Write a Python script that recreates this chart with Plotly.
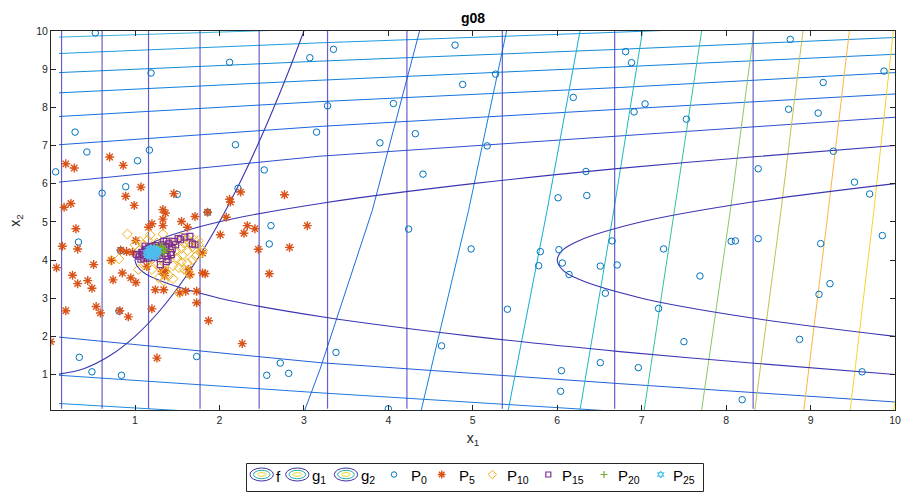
import plotly.graph_objects as go

# ---------------- data ----------------
# "f" contour lines, nearly horizontal family (sampled at common x1 stations)
fh_x = [0.1, 3.19, 6.74, 10.0]
fh_y = [
    [9.84, 10.06, 10.30, 10.52],
    [9.41, 9.69, 9.97, 10.25],
    [8.91, 9.21, 9.52, 9.83],
    [8.38, 8.71, 9.06, 9.39],
    [7.76, 8.15, 8.52, 8.91],
    [7.02, 7.50, 7.95, 8.35],
    [6.04, 6.72, 7.25, 7.74],
    [1.98, 1.31, 0.76, 0.28],
    [0.98, 0.52, 0.03, -0.40],
    [0.24, -0.16, -0.60, -1.00],
]
# "f" contour lines, steep family (sampled at common x2 stations)
fs_y = [0.07, 5.3, 10.0]
fs_x = [
    [3.01, 3.81, 4.37],
    [4.39, 4.95, 5.40],
    [5.42, 5.88, 6.27],
    [6.27, 6.67, 7.01],
    [7.03, 7.39, 7.71],
    [7.71, 8.05, 8.33],
    [8.34, 8.65, 8.91],
    [8.92, 9.21, 9.46],
    [9.47, 9.75, 9.98],
    [9.98, 10.5, 10.9],
]
s1_extra_x = [3.01, 3.19, 3.81, 4.37]
s1_extra_y = [0.07, 1.13, 5.3, 10.0]

# vertical contour lines (x1 positions)
v_x = [0.13, 0.61, 1.16, 1.77, 2.47, 3.28, 4.22, 5.35, 6.68, 8.32]
v_y = [0.1, 10.0]

# constraint curves
g1_x = [0.1, 0.4, 0.7, 1.0, 1.3, 1.6, 1.9, 2.2, 2.5, 2.8, 3.0]
g1_y = [1.01, 1.16, 1.49, 2.0, 2.69, 3.56, 4.61, 5.84, 7.25, 8.84, 10.0]
g2_x = [10.0, 8.3, 6.74, 5.0, 3.25, 2.0, 1.25, 1.06, 1.0, 1.06, 1.25, 2.0, 3.25, 5.0, 6.74, 8.3, 10.0]
g2_y = [7.0, 6.7, 6.4, 6.0, 5.5, 5.0, 4.5, 4.25, 4.0, 3.75, 3.5, 3.0, 2.5, 2.0, 1.6, 1.3, 1.0]
g2b_x = [10.0, 8.25, 7.0, 6.25, 6.06, 6.0, 6.06, 6.25, 7.0, 8.25, 10.0]
g2b_y = [6.0, 5.5, 5.0, 4.5, 4.25, 4.0, 3.75, 3.5, 3.0, 2.5, 2.0]

# populations
p0_x = [0.53, 0.29, 0.43, 0.06, 1.19, 1.17, 1.03, 0.89, 0.61, 1.50, 2.12, 2.19, 2.22, 2.53, 3.07, 3.15, 1.86,
        0.33, 0.83, 0.81, 0.34, 0.49, 0.84, 1.73, 2.61, 2.59, 2.56, 2.72, 2.82,
        3.35, 4.79, 5.27, 4.88, 6.19, 3.28, 4.06, 3.90, 4.32, 5.17, 4.41, 6.34, 6.01, 6.35,
        4.24, 3.38, 4.98, 5.41, 4.63, 4.00, 5.80, 5.78, 6.02, 6.06, 6.14, 6.65, 6.51, 6.57, 6.71, 6.51, 6.05, 6.04,
        6.81, 6.88, 8.76, 9.87, 9.15, 7.04, 6.91, 7.53, 8.74, 9.09, 9.27, 8.38, 9.52, 9.70,
        7.26, 7.69, 7.20, 7.50, 6.96, 8.06, 8.11, 8.38, 9.12, 9.23, 9.10, 8.87, 9.85, 9.61, 8.19]
p0_y = [9.95, 7.35, 6.83, 6.31, 8.90, 6.88, 6.60, 5.92, 5.75, 5.72, 9.18, 7.02, 5.88, 6.36, 9.30, 7.35, 5.25,
        4.47, 4.25, 2.66, 1.45, 1.07, 0.98, 1.47, 4.90, 4.42, 0.98, 1.30, 1.03,
        9.52, 9.63, 8.87, 8.60, 8.26, 8.04, 8.10, 7.07, 7.31, 6.99, 6.25, 6.32, 5.63, 5.69,
        4.81, 1.58, 4.29, 2.71, 1.75, 0.10, 4.22, 3.85, 4.27, 3.92, 3.62, 4.50, 3.84, 3.13, 3.87, 1.31, 1.10, 0.56,
        9.46, 9.17, 9.78, 8.95, 8.65, 8.09, 7.88, 7.69, 7.95, 7.85, 6.85, 6.39, 6.04, 5.73,
        4.29, 3.58, 2.73, 1.86, 1.18, 4.49, 4.50, 4.56, 4.43, 3.38, 3.10, 1.92, 4.64, 1.07, 0.34]

p5_x = [0.18, 0.28, 0.70, 0.86, 0.89, 1.07, 0.99, 0.16, 0.24, 1.33, 1.36, 1.46, 1.71, 1.86, 2.12, 2.13, 2.25, 2.77, 2.08,
        0.30, 0.14, 0.32, 0.07, 0.26, 0.32, 0.44, 0.49, 0.51, 0.18, 0.54, 0.59, 0.00, 0.74, 0.85, 0.95, 1.01, 0.92,
        0.97, 1.01, 1.20, 1.24, 1.26, 1.34, 1.16, 1.20, 1.33, 1.33, 1.55, 1.62, 1.53, 1.60, 1.73, 1.73, 1.87, 1.83,
        1.65, 2.01, 2.29, 2.33, 2.42, 2.46, 2.59, 2.83, 3.04, 2.27, 1.80, 0.83, 0.90, 0.72, 1.14, 1.32, 1.63, 1.80,
        0.82, 1.36, 1.35]
p5_y = [6.52, 6.41, 6.70, 6.48, 5.67, 5.91, 5.43, 5.38, 5.48, 5.32, 5.23, 5.74, 5.14, 5.25, 5.59, 5.52, 5.78, 5.71, 5.12,
        4.82, 4.36, 4.29, 3.80, 3.60, 3.38, 3.46, 3.26, 3.88, 2.67, 2.78, 2.61, 1.86, 3.48, 3.66, 3.53, 3.41, 2.51,
        4.20, 4.51, 2.72, 3.22, 1.43, 3.22, 4.86, 4.95, 5.07, 4.90, 5.01, 4.86, 3.14, 3.18, 3.18, 2.88, 2.41, 3.64,
        3.62, 4.66, 4.70, 4.90, 4.82, 4.28, 3.64, 4.33, 4.90, 1.81, 4.18, 4.26, 4.22, 3.99, 3.83, 3.70, 3.75, 3.66,
        2.67, 3.72, 3.59]

p10_x = [0.91, 0.81, 0.72, 1.04, 1.06, 1.10, 1.18, 1.33, 1.42, 1.55, 1.62, 1.70, 1.75, 1.78, 1.80, 1.72,
         1.68, 1.62, 1.55, 1.50, 1.45, 1.40, 1.45, 1.28, 1.65, 1.62, 1.52, 1.52, 1.58, 1.35, 1.30, 1.25,
         1.20, 1.12, 1.55, 1.62, 1.68, 1.48, 1.40, 1.05, 1.15, 1.20, 1.75, 1.58, 1.10, 1.36, 1.56, 1.65,
         1.00, 1.44, 1.70, 1.34, 1.26]
p10_y = [4.68, 4.03, 3.99, 3.75, 4.49, 4.40, 4.66, 4.68, 4.47, 4.60, 4.55, 4.52, 4.51, 4.18, 4.25, 4.10,
         4.00, 3.92, 3.95, 4.05, 3.85, 3.60, 3.51, 3.53, 3.62, 3.70, 3.14, 3.80, 3.75, 3.90, 3.80, 3.95,
         3.75, 3.90, 4.30, 4.25, 4.35, 4.25, 4.30, 4.25, 4.52, 4.02, 4.40, 4.45, 4.05, 3.70, 4.12, 4.45,
         4.40, 4.15, 4.30, 3.45, 4.45]

p15_x = [1.59, 1.68, 1.54, 1.71, 1.37, 1.46, 1.30, 1.39, 1.43, 1.34, 1.65, 1.51, 1.37,
         1.05, 1.08, 1.10, 1.12, 1.14, 1.16, 1.18, 1.20, 1.22, 1.24, 1.26, 1.28, 1.30, 1.32,
         1.34, 1.36, 1.40, 1.44, 1.10, 1.13, 1.17, 1.21, 1.25, 1.29, 1.33, 1.15, 1.19, 1.23,
         1.27, 1.31, 1.35, 1.07, 1.12, 1.42, 1.38, 1.48, 1.02]
p15_y = [4.60, 4.42, 4.53, 4.40, 4.49, 4.49, 3.88, 4.01, 4.14, 4.49, 4.62, 4.56, 3.96,
         4.10, 4.20, 4.05, 4.28, 4.12, 4.32, 4.08, 4.35, 4.15, 4.38, 4.10, 4.33, 4.20, 4.40,
         4.25, 4.36, 4.42, 4.30, 4.14, 4.22, 4.25, 4.18, 4.28, 4.12, 4.32, 4.05, 4.30, 4.06,
         4.22, 4.27, 4.18, 4.02, 4.36, 4.20, 4.10, 4.40, 4.15]

p20_x = [1.18, 1.21, 1.24, 1.27, 1.30, 1.33, 1.36, 1.22, 1.26, 1.30, 1.20, 1.28, 1.34, 1.24, 1.32]
p20_y = [4.20, 4.25, 4.18, 4.28, 4.22, 4.30, 4.26, 4.32, 4.34, 4.33, 4.14, 4.16, 4.20, 4.24, 4.36]

p25_x = [1.14, 1.16, 1.18, 1.20, 1.22, 1.24, 1.26, 1.17, 1.19, 1.21, 1.23, 1.25, 1.15, 1.19, 1.23,
         1.27, 1.18, 1.22, 1.20, 1.24]
p25_y = [4.18, 4.22, 4.15, 4.24, 4.19, 4.26, 4.22, 4.28, 4.20, 4.12, 4.14, 4.18, 4.12, 4.30, 4.29,
         4.25, 4.10, 4.23, 4.17, 4.09]

x_ticks = [1, 2, 3, 4, 5, 6, 7, 8, 9, 10]
y_ticks = [1, 2, 3, 4, 5, 6, 7, 8, 9, 10]

legend_names = ['f', 'g<sub>1</sub>', 'g<sub>2</sub>', 'P<sub>0</sub>', 'P<sub>5</sub>',
                'P<sub>10</sub>', 'P<sub>15</sub>', 'P<sub>20</sub>', 'P<sub>25</sub>']

# ---------------- styles / layout ----------------
fh_colors = ['#3bb3dc', '#1c9bdf', '#128ad8', '#1180dc', '#1173df', '#1966dc', '#2f4fcf',
             '#2460d8', '#1f78df', '#1f8ce0']
fs_colors = ['#1e68e0', '#1480dc', '#12acd0', '#1cb9bd', '#34c0a0', '#86c86a', '#c4c050',
             '#f8b542', '#f8d232', '#f5ee20']
navy = '#3b35b0'
vcol = 'rgba(62,58,190,0.8)'
pop_styles = [  # symbol, colour, size, line width
    ('circle-open', '#0072BD', 6.5, 1.0),
    ('asterisk-open', '#D95319', 7.5, 1.4),
    ('diamond-open', '#EDB120', 7.5, 1.0),
    ('square-open', '#7E2F8E', 6, 1.2),
    ('cross-thin-open', '#77AC30', 6, 1.2),
    ('hexagram-open', '#4DBEEE', 6, 1.2),
]
# legend layout in pixels (second, hidden axis pair mapped 1:1 to pixels)
leg_icon_cx = [261.7, 297.3, 346.0, 394.0, 441.7, 492.3, 548.3, 604.0, 660.7]
leg_text_x = [273.5, 309.5, 358.5, 408.5, 456.5, 504.5, 560.0, 616.0, 671.0]
leg_cy = 474.5
leg_box = (246.5, 463.5, 703.5, 491.5)

PL, PR, PT = 51, 9, 31
H, W = 494, 904
plot_bottom_px = 410
ydom0 = (H - plot_bottom_px) / (H - PT)

fig = go.Figure()

for ys, c in zip(fh_y, fh_colors):
    fig.add_trace(go.Scatter(x=fh_x, y=ys, mode='lines', showlegend=False, hoverinfo='skip',
                             line=dict(color=c, width=1)))
for i, (xs, c) in enumerate(zip(fs_x, fs_colors)):
    if i == 0:
        fig.add_trace(go.Scatter(x=s1_extra_x, y=s1_extra_y, mode='lines', showlegend=False,
                                 hoverinfo='skip', line=dict(color=c, width=1)))
    else:
        fig.add_trace(go.Scatter(x=xs, y=fs_y, mode='lines', showlegend=False, hoverinfo='skip',
                                 line=dict(color=c, width=1)))
for vx in v_x:
    fig.add_trace(go.Scatter(x=[vx, vx], y=v_y, mode='lines', showlegend=False, hoverinfo='skip',
                             line=dict(color=vcol, width=1.2)))

for cx, cy in [(g1_x, g1_y), (g2_x, g2_y), (g2b_x, g2b_y)]:
    fig.add_trace(go.Scatter(x=cx, y=cy, mode='lines', showlegend=False, hoverinfo='skip',
                             line=dict(color=navy, width=1.1, shape='spline')))

pops = [(p0_x, p0_y), (p5_x, p5_y), (p10_x, p10_y), (p15_x, p15_y), (p20_x, p20_y), (p25_x, p25_y)]
for (px, py), (sym, col, sz, lw), nm in zip(pops, pop_styles, legend_names[3:]):
    fig.add_trace(go.Scatter(x=px, y=py, mode='markers', name=nm, showlegend=False,
                             marker=dict(symbol=sym, size=sz, color=col, line=dict(color=col, width=lw))))

# ---- custom legend (MATLAB style) ----
shapes = [dict(type='rect', xref='x2', yref='y2', x0=leg_box[0], y0=leg_box[1], x1=leg_box[2], y1=leg_box[3],
               line=dict(color='#262626', width=1), fillcolor='white', layer='below')]
ell = [(11.7, 6.5, '#3d2fa6'), (8.3, 4.2, '#22b0a8'), (4.3, 1.9, '#e8d62a')]
for cx in leg_icon_cx[:3]:
    for rx, ry, c in ell:
        shapes.append(dict(type='circle', xref='x2', yref='y2', x0=cx - rx, x1=cx + rx,
                           y0=leg_cy - ry, y1=leg_cy + ry, line=dict(color=c, width=1)))
for cx, (sym, col, sz, lw) in zip(leg_icon_cx[3:], pop_styles):
    fig.add_trace(go.Scatter(x=[cx], y=[leg_cy], mode='markers', xaxis='x2', yaxis='y2',
                             showlegend=False, hoverinfo='skip', cliponaxis=False,
                             marker=dict(symbol=sym, size=sz - 1, color=col, line=dict(color=col, width=lw))))
annotations = []
for tx, nm in zip(leg_text_x, legend_names):
    annotations.append(dict(x=tx, y=leg_cy + 1.5, xref='x2', yref='y2', text=nm, showarrow=False,
                            xanchor='left', yanchor='middle', font=dict(size=15, color='#000000')))

axis_common = dict(showgrid=False, zeroline=False, showline=True, linecolor='#262626', linewidth=1,
                   mirror='ticks', ticks='inside', ticklen=5, tickcolor='#262626',
                   tickfont=dict(size=10.5, color='#262626'), automargin=False)

fig.update_layout(
    width=W, height=H,
    margin=dict(l=PL, r=PR, t=PT, b=0, autoexpand=False),
    paper_bgcolor='white', plot_bgcolor='white',
    font=dict(family='Liberation Sans, Arial, sans-serif', color='#262626'),
    title=dict(text='<b>g08</b>', x=473 / W, xanchor='center', y=1 - 18 / H, yanchor='middle',
               font=dict(size=14, color='#000000')),
    xaxis=dict(range=[0.005, 10], tickvals=x_ticks, anchor='y',
               title=dict(text='x<sub>1</sub>', standoff=8, font=dict(size=14, color='#262626')),
               **axis_common),
    yaxis=dict(range=[0.07, 10], tickvals=y_ticks, domain=[ydom0, 1], anchor='x',
               title=dict(text='x<sub>2</sub>', standoff=12, font=dict(size=14, color='#262626')),
               **axis_common),
    xaxis2=dict(domain=[0, 1], range=[PL, W - PR], visible=False, anchor='y2', fixedrange=True),
    yaxis2=dict(domain=[0, ydom0], range=[H, plot_bottom_px], visible=False, anchor='x2', fixedrange=True),
    shapes=shapes,
    annotations=annotations,
    showlegend=False,
)

fig.write_html('out.html')
